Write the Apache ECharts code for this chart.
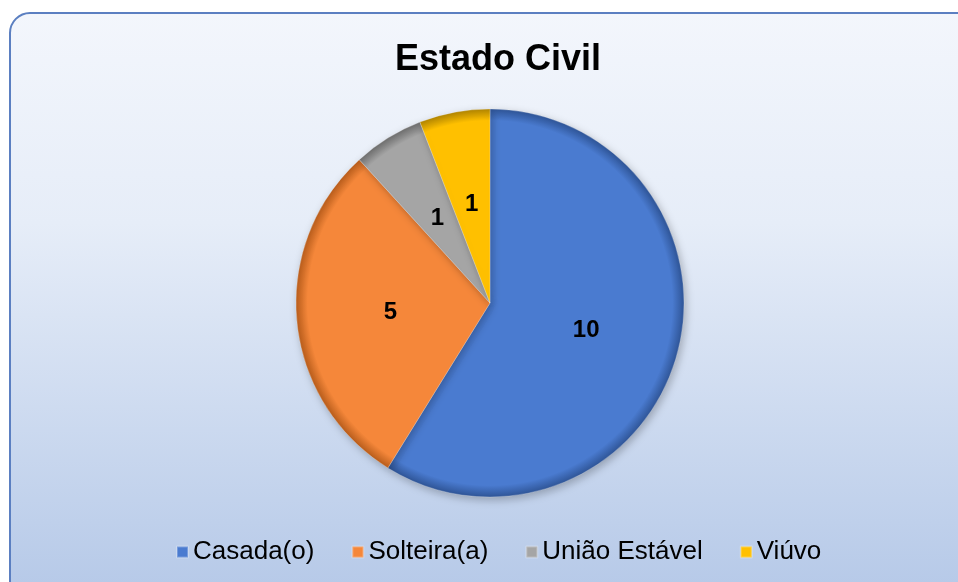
<!DOCTYPE html>
<html><head><meta charset="utf-8">
<script src="https://cdn.jsdelivr.net/npm/echarts@6/dist/echarts.min.js"></script>
<style>html,body{margin:0;padding:0;background:#fff}#c{width:958px;height:582px}</style>
</head><body><div id="c"></div>
<script>
const title = 'Estado Civil';
const categories = ['Casada(o)', 'Solteira(a)', 'União Estável', 'Viúvo'];
const values = [10, 5, 1, 1];
const colors = ['#4a7bd0', '#f5873a', '#a5a5a5', '#ffc000'];
const edgeColors = ['#2f5597', '#b85d1c', '#6e6e6e', '#b08400'];

const cx = 490, cy = 303, R = 194;
function grad(c, e) {
  return { type: 'radial', x: cx, y: cy, r: R, global: true,
    colorStops: [{offset: 0, color: c}, {offset: 0.9, color: c}, {offset: 0.94, color: c}, {offset: 1, color: e}] };
}
const data = categories.map((n, i) => ({ name: n, value: values[i],
  itemStyle: { color: grad(colors[i], edgeColors[i]) } }));

const chart = echarts.init(document.getElementById('c'), null, {renderer: 'canvas'});
chart.setOption({
  animation: false,
  graphic: [{
    type: 'rect', z: -10, silent: true,
    shape: { x: 10, y: 13, width: 970, height: 600, r: 20 },
    style: { stroke: '#5b7fc1', lineWidth: 2,
      fill: { type: 'linear', x: 0, y: 0, x2: 0, y2: 1,
        colorStops: [{offset: 0, color: '#f3f6fc'}, {offset: 0.35, color: '#e6edf8'}, {offset: 1, color: '#b3c7e7'}] } }
  }],
  title: {
    text: title, left: 493, top: 37, textAlign: 'center',
    textStyle: { fontFamily: 'Liberation Sans', fontSize: 36, fontWeight: 'bold', color: '#000' }
  },
  legend: {
    data: categories.map((n, i) => ({ name: n, itemStyle: { color: colors[i] } })),
    top: 539, left: 176, icon: 'rect', orient: 'horizontal', padding: 0,
    itemWidth: 11, itemHeight: 11, itemGap: 37,
    textStyle: { fontFamily: 'Liberation Sans', fontSize: 26, color: '#000' }
  },
  color: colors,
  series: [{
    type: 'pie', center: [cx, cy], radius: [0, R], startAngle: 90, clockwise: true,
    label: { show: true, position: 'inside', formatter: '{c}', fontFamily: 'Liberation Sans',
      fontSize: 24, fontWeight: 'bold', color: '#000' },
    labelLine: { show: false },
    itemStyle: { borderColor: 'rgba(255,255,255,0.25)', borderWidth: 1,
      shadowBlur: 8, shadowColor: 'rgba(0,0,0,0.25)', shadowOffsetX: 2, shadowOffsetY: 3 },
    emphasis: { disabled: true },
    data: data
  }]
});
</script></body></html>
